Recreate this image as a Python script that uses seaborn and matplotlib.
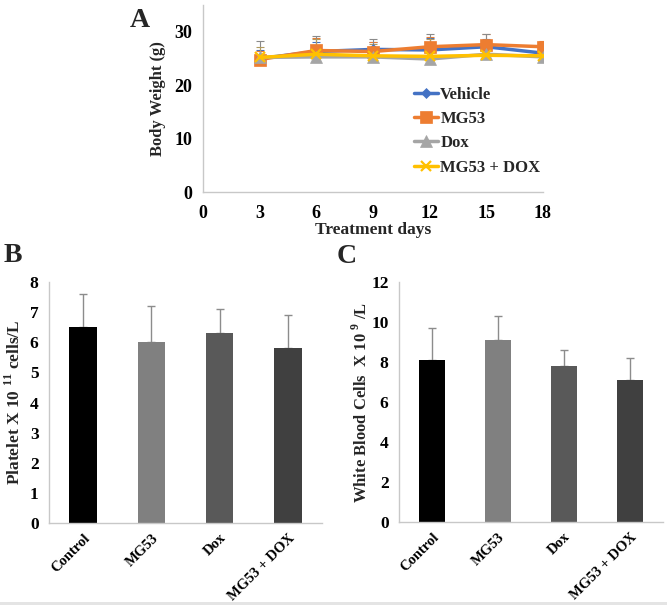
import matplotlib
matplotlib.use("Agg")
import matplotlib.pyplot as plt
import seaborn as sns
import numpy as np
import pandas as pd
from matplotlib.ticker import FixedLocator
from matplotlib.patches import Rectangle

# ---------------- data ----------------
days = [3, 6, 9, 12, 15, 18]
groups_a = ["Vehicle", "MG53", "Dox", "MG53 + DOX"]
vehicle = [25.0, 26.3, 26.7, 26.6, 27.2, 26.0]
mg53 = [24.8, 26.5, 26.3, 27.2, 27.6, 27.2]
dox = [25.2, 25.3, 25.3, 24.9, 25.8, 25.3]
mg53_dox = [25.2, 25.8, 25.5, 25.4, 25.6, 25.5]
vehicle_err = [1.6, 1.8, 1.4, 2.2, 1.5, 1.0]
mg53_err = [1.6, 2.3, 1.8, 1.8, 1.9, 1.0]
dox_err = [3.1, 4.0, 3.3, 4.7, 3.7, 2.6]
mg53_dox_err = [2.0, 2.8, 2.2, 3.2, 2.5, 1.8]

categories = ["Control", "MG53", "Dox", "MG53 + DOX"]
platelet = [6.5, 6.0, 6.3, 5.8]
platelet_err = [1.1, 1.2, 0.8, 1.1]
wbc = [8.1, 9.1, 7.8, 7.1]
wbc_err = [1.6, 1.2, 0.8, 1.1]

# ---------------- style ----------------
sns.set_theme(style="white")
plt.rcParams['font.family'] = ['Liberation Serif', 'DejaVu Serif']
plt.rcParams['font.weight'] = 'bold'
plt.rcParams['mathtext.fontset'] = 'custom'
plt.rcParams['mathtext.rm'] = 'Liberation Serif:bold'
plt.rcParams['mathtext.bf'] = 'Liberation Serif:bold'

axis_col = "#c8c8c8"
line_colors = ["#4472C4", "#ED7D31", "#A5A5A5", "#FFC000"]
err_colors = ["#4472C4", "#ED7D31", "#8a8a8a", "#b09a60"]
markers = ["D", "s", "^", "x"]
msizes = [5, 9, 8, 7]
bar_colors = ["#000000", "#808080", "#595959", "#404040"]

fig = plt.figure(figsize=(6.67, 6.05), dpi=100)
fig.patch.set_facecolor("white")
fig.patches.append(Rectangle((0, 0), 1, 3 / 605, transform=fig.transFigure,
                             facecolor="#e4e4e4", edgecolor="none", zorder=0))

def style_axes(ax):
    for s in ["top", "right"]:
        ax.spines[s].set_visible(False)
    for s in ["left", "bottom"]:
        ax.spines[s].set_color(axis_col)
        ax.spines[s].set_linewidth(1.0)
    ax.tick_params(axis="both", which="both", direction="out", color=axis_col,
                   length=4, width=1, labelcolor="black")
    ax.grid(False)

# ---------------- Panel A ----------------
axA = fig.add_axes([0.3043, 0.6826, 0.5097, 0.309])
series = [vehicle, mg53, dox, mg53_dox]
errs = [vehicle_err, mg53_err, dox_err, mg53_dox_err]
for vals, er, c in zip(series, errs, err_colors):
    axA.errorbar(days, vals, yerr=[np.zeros(len(er)), er], fmt="none",
                 ecolor=c, elinewidth=0.8, capsize=3, capthick=0.8, zorder=1)
for name, vals, c, m, ms in zip(groups_a, series, line_colors, markers, msizes):
    sns.lineplot(x=days, y=vals, color=c, marker=m, markersize=ms,
                 markeredgecolor=c, markeredgewidth=(1.6 if m == "x" else 0.5),
                 linewidth=2.5, label=name, ax=axA, zorder=3)
axA.set_xlim(0, 18)
axA.set_ylim(0, 35)
axA.set_xticks([0, 3, 6, 9, 12, 15, 18])
axA.set_yticks([0, 10, 20, 30])
style_axes(axA)
axA.tick_params(axis="both", labelsize=13)
axA.tick_params(axis="x", pad=5)
axA.set_xlabel("Treatment days", fontsize=12.5, fontweight="bold", labelpad=0)
axA.set_ylabel("Body Weight (g)", fontsize=12, fontweight="bold", labelpad=6)
handles, labels = axA.get_legend_handles_labels()
leg = axA.legend(handles, labels, loc="upper left", bbox_to_anchor=(0.6, 0.6),
                 frameon=False, fontsize=12, handlelength=1.45, handletextpad=0.15,
                 labelspacing=0.5, borderaxespad=0)
for t in leg.get_texts():
    t.set_fontweight("bold")

# ---------------- Bar panels ----------------
def bar_panel(rect, vals, errv, ylim, yticks, ylabel, ylsize, lpad):
    ax = fig.add_axes(rect)
    df = pd.DataFrame({"cat": categories, "val": vals})
    sns.barplot(data=df, x="cat", y="val", hue="cat", palette=dict(zip(categories, bar_colors)),
                width=0.4, legend=False, ax=ax, saturation=1, edgecolor="none")
    ax.errorbar(np.arange(len(vals)), vals, yerr=[np.zeros(len(vals)), errv], fmt="none",
                ecolor="#8c8c8c", elinewidth=1, capsize=3, capthick=1, zorder=0)
    ax.set_xlim(-0.5, len(vals) - 0.5)
    ax.set_ylim(*ylim)
    ax.set_yticks(yticks)
    style_axes(ax)
    ax.xaxis.set_minor_locator(FixedLocator(np.arange(-0.5, len(vals), 1.0)))
    ax.tick_params(axis="x", which="major", length=0, labelsize=10.5, pad=6)
    ax.tick_params(axis="x", which="minor", length=4)
    ax.tick_params(axis="y", labelsize=12.5)
    for lab in ax.get_xticklabels():
        lab.set_rotation(45)
        lab.set_ha("right")
        lab.set_rotation_mode("anchor")
        lab.set_fontweight("bold")
    ax.set_xlabel("")
    ax.set_ylabel(ylabel, fontsize=ylsize, fontweight="bold", labelpad=lpad)
    return ax

axB = bar_panel([0.0735, 0.1355, 0.4093, 0.3984], platelet, platelet_err, (0, 8),
                range(0, 9), r"Platelet X 10 $^{11}$ cells/L", 12.5, 4)
axC = bar_panel([0.5982, 0.1372, 0.3958, 0.3967], wbc, wbc_err, (0, 12),
                range(0, 13, 2), r"White Blood Cells  X 10 $^{9}$ /L", 12, 0.5)

# ---------------- panel letters ----------------
fig.text(130 / 667, 1 - 27 / 605, "A", fontsize=20, fontweight="bold", ha="left", va="baseline")
fig.text(4 / 667, 1 - 262 / 605, "B", fontsize=20, fontweight="bold", ha="left", va="baseline")
fig.text(337 / 667, 1 - 263 / 605, "C", fontsize=20, fontweight="bold", ha="left", va="baseline")

fig.savefig("out.png", dpi=100, facecolor="white")
